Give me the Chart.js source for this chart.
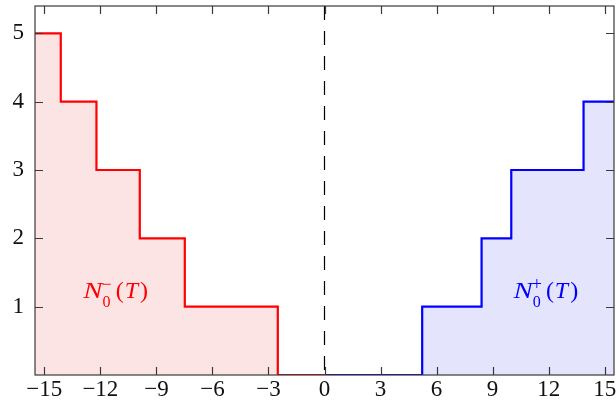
<!DOCTYPE html>
<html>
<head>
<meta charset="utf-8">
<script src="https://cdn.jsdelivr.net/npm/chart.js@4/dist/chart.umd.min.js"></script>
<style>
  html, body { margin: 0; padding: 0; background: #fff; }
  #wrap { width: 616px; height: 408px; }
</style>
</head>
<body>
<div id="wrap"><canvas id="steps"></canvas></div>
<script>
// step positions (T) and counts
var negT = [-15.5, -14.12, -12.21, -9.89, -7.48, -2.5, 0];
var negN = [5, 4, 3, 2, 1, 0, 0];
var posT = [0, 5.23, 8.41, 10.0, 13.87, 15.5];
var posN = [0, 1, 2, 3, 4, 4];
var xTicks = [-15, -12, -9, -6, -3, 0, 3, 6, 9, 12, 15];
var yTicks = [1, 2, 3, 4, 5];
var labelNeg = { sup: '\u2212', at: [-12.91, 1.125] };
var labelPos = { sup: '+', at: [10.12, 1.125] };

var FONT = "'Liberation Serif', 'DejaVu Serif', serif";
Chart.defaults.font.family = FONT;
Chart.defaults.font.size = 23;

function pts(xs, ys) {
  return xs.map(function (x, i) { return { x: x, y: ys[i] }; });
}

// N_0^{sup}(T), pieces flowed one after another
function drawLabel(ctx, lab, color, xs, ys) {
  var x = xs.getPixelForValue(lab.at[0]);
  var y = ys.getPixelForValue(lab.at[1]);
  ctx.save();
  ctx.fillStyle = color;
  ctx.textBaseline = 'alphabetic';
  ctx.textAlign = 'left';
  ctx.font = 'italic 24px ' + FONT;
  ctx.save();
  ctx.translate(x, y);
  ctx.scale(1.2, 1);
  ctx.fillText('N', 0, 0);
  ctx.restore();
  var cx = x + ctx.measureText('N').width * 1.2 - 1;
  ctx.font = '16px ' + FONT;
  ctx.fillText('0', cx + 1, y + 9);
  var sw = ctx.measureText('0').width;
  ctx.font = '18px ' + FONT;
  ctx.fillText(lab.sup, cx, y - 8);
  cx += Math.max(sw + 1, ctx.measureText(lab.sup).width) + 4;
  ctx.font = '24px ' + FONT;
  ctx.fillText('(', cx, y);
  cx += ctx.measureText('(').width + 1;
  ctx.font = 'italic 24px ' + FONT;
  ctx.fillText('T', cx, y);
  cx += ctx.measureText('T').width + 2;
  ctx.font = '24px ' + FONT;
  ctx.fillText(')', cx, y);
  ctx.restore();
}

var framePlugin = {
  id: 'frame',
  beforeDatasetsDraw: function (chart) {
    var ctx = chart.ctx, a = chart.chartArea;
    var x0 = chart.scales.x.getPixelForValue(0);
    ctx.save();
    ctx.strokeStyle = '#000';
    ctx.lineWidth = 1.2;
    ctx.setLineDash([14, 11]);
    ctx.beginPath();
    ctx.moveTo(x0, a.top);
    ctx.lineTo(x0, a.bottom);
    ctx.stroke();
    ctx.restore();
  },
  afterDatasetsDraw: function (chart) {
    var ctx = chart.ctx, a = chart.chartArea;
    var xs = chart.scales.x, ys = chart.scales.y;
    drawLabel(ctx, labelNeg, '#ff0000', xs, ys);
    drawLabel(ctx, labelPos, '#0000ff', xs, ys);
    ctx.save();
    ctx.strokeStyle = '#3a3a3a';
    ctx.lineWidth = 1.2;
    ctx.beginPath();
    xTicks.forEach(function (v) {
      var p = Math.round(xs.getPixelForValue(v)) + 0.5;
      ctx.moveTo(p, a.bottom); ctx.lineTo(p, a.bottom - 8);
      ctx.moveTo(p, a.top); ctx.lineTo(p, a.top + 8);
    });
    yTicks.forEach(function (v) {
      var p = Math.round(ys.getPixelForValue(v)) + 0.5;
      ctx.moveTo(a.left, p); ctx.lineTo(a.left + 8, p);
      ctx.moveTo(a.right, p); ctx.lineTo(a.right - 8, p);
    });
    ctx.stroke();
    ctx.strokeRect(a.left, a.top, a.right - a.left, a.bottom - a.top);
    ctx.restore();
  }
};

new Chart('steps', {
  type: 'line',
  data: {
    datasets: [{
      data: pts(negT, negN),
      stepped: 'before',
      borderColor: '#ff0000',
      backgroundColor: 'rgba(253,228,228,1)',
      borderWidth: 2.2,
      fill: 'origin',
      pointRadius: 0
    }, {
      data: pts(posT, posN),
      stepped: 'before',
      borderColor: '#0000ff',
      backgroundColor: 'rgba(228,228,252,1)',
      borderWidth: 2.2,
      fill: 'origin',
      pointRadius: 0
    }]
  },
  options: {
    responsive: true,
    maintainAspectRatio: false,
    animation: false,
    layout: { padding: { top: 6, right: 2, left: 0, bottom: 0 } },
    plugins: { legend: { display: false }, tooltip: { enabled: false } },
    scales: {
      x: {
        type: 'linear',
        min: -15.5,
        max: 15.5,
        afterBuildTicks: function (s) { s.ticks = xTicks.map(function (v) { return { value: v }; }); },
        afterFit: function (s) { s.height = 33; s.paddingLeft = 0; s.paddingRight = 0; },
        grid: { display: false, drawTicks: false },
        border: { display: false },
        ticks: {
          color: '#111',
          padding: 1,
          maxRotation: 0,
          autoSkip: false,
          font: { family: FONT, size: 23 },
          callback: function (v) { return v < 0 ? '\u2212' + Math.abs(v) : '' + v; }
        }
      },
      y: {
        min: 0,
        max: 5.4,
        afterBuildTicks: function (s) { s.ticks = yTicks.map(function (v) { return { value: v }; }); },
        afterFit: function (s) { s.width = 35; s.paddingTop = 0; s.paddingBottom = 0; },
        grid: { display: false, drawTicks: false },
        border: { display: false },
        ticks: {
          color: '#111',
          padding: 11,
          font: { family: FONT, size: 23 }
        }
      }
    }
  },
  plugins: [framePlugin]
});
</script>
</body>
</html>
